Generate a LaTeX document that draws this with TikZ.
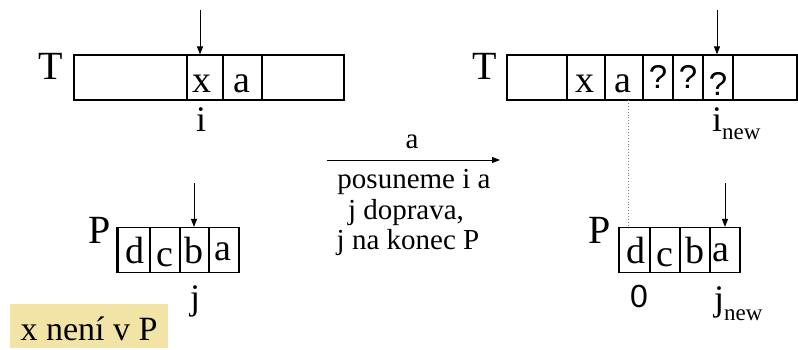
\documentclass[tikz,border=0pt]{standalone}
\usepackage{fontspec}
\setmainfont{Liberation Serif}
\newfontfamily\arialf{Liberation Sans}
\usetikzlibrary{arrows.meta}
\definecolor{khaki}{RGB}{242,228,166}
\tikzset{
  cell/.style={draw, line width=1.2pt, inner sep=0pt, minimum height=45pt},
  ptr/.style={line width=0.9pt, -{Triangle[length=8pt,width=6pt]}},
  lbl/.style={anchor=base, inner sep=0pt},
  bigfont/.style={font=\fontsize{38}{38}\selectfont},
  tfont/.style={font=\fontsize{40}{40}\selectfont},
  idxfont/.style={font=\fontsize{36}{36}\selectfont},
  midfont/.style={font=\fontsize{29}{29}\selectfont},
  notefont/.style={font=\fontsize{34}{34}\selectfont},
  qmfont/.style={font=\arialf\fontsize{33}{33}\selectfont},
}
\newcommand{\subnew}[1]{\raisebox{#1}{\fontsize{23}{23}\selectfont new}}
\begin{document}
\begin{tikzpicture}[x=1pt,y=-1pt]
\useasboundingbox (0,0) rectangle (798,349);
% left T
\node[cell, minimum width=113pt] (lt1) at (130.5,77.5) {};
\node[cell, minimum width=36pt] (lt2) at (205,77.5) {};
\node[cell, minimum width=39pt] (lt3) at (242.5,77.5) {};
\node[cell, minimum width=82pt] (lt4) at (303,77.5) {};
\node[lbl, tfont] (lT) at (51,79) {T};
\node[lbl, bigfont] (ltx) at (202,92) {x};
\node[lbl, bigfont] (lta) at (242,92) {a};
\node[lbl, idxfont] (li) at (201,131) {i};
\coordinate (la0) at (200,10);
\draw[ptr] (la0) -- (la0 |- lt2.north);
% right T
\node[cell, minimum width=60pt] (rt1) at (537,77.5) {};
\node[cell, minimum width=38pt] (rt2) at (586,77.5) {};
\node[cell, minimum width=38pt] (rt3) at (624,77.5) {};
\node[cell, minimum width=30pt] (rt4) at (658,77.5) {};
\node[cell, minimum width=30pt] (rt5) at (688,77.5) {};
\node[cell, minimum width=30pt] (rt6) at (718,77.5) {};
\node[cell, minimum width=64pt] (rt7) at (765,77.5) {};
\node[lbl, tfont] (rT) at (485,79) {T};
\node[lbl, bigfont] (rtx) at (585,92) {x};
\node[lbl, bigfont] (rta) at (623,92) {a};
\node[lbl, qmfont] (rq1) at (658,88) {?};
\node[lbl, qmfont] (rq2) at (688,88) {?};
\node[lbl, qmfont] (rq3) at (718,95) {?};
\node[lbl, idxfont, anchor=base west] (ri) at (712,131) {i\subnew{-8pt}};
\coordinate (ra0) at (717,10);
\draw[ptr] (ra0) -- (ra0 |- rt6.north);
% middle
\coordinate (m1) at (327,160);
\coordinate (m2) at (500,160);
\draw[ptr] (m1) -- (m2);
\node[lbl, midfont] (ma) at (412,148) {a};
\node[lbl, midfont] (ml1) at (414,188) {posuneme i a};
\node[lbl, midfont] (ml2) at (406,219) {j doprava,};
\node[lbl, midfont] (ml3) at (408,249) {j na konec P};
% left P
\node[cell, minimum width=32pt] (lp1) at (134,250) {};
\node[cell, minimum width=30pt] (lp2) at (165,250) {};
\node[cell, minimum width=29pt] (lp3) at (194.5,250) {};
\node[cell, minimum width=30pt] (lp4) at (224,250) {};
\draw[line width=2.4pt] (lp1.north west) -- (lp1.south west);
\node[lbl, tfont] (lP) at (100,243) {P};
\node[lbl, bigfont] (lpd) at (135,263) {d};
\node[lbl, bigfont] (lpc) at (165,266) {c};
\node[lbl, bigfont] (lpb) at (194,263) {b};
\node[lbl, bigfont] (lpa) at (223,260) {a};
\node[lbl, idxfont] (lj) at (195,309) {j};
\coordinate (lpa0) at (194,183);
\draw[ptr] (lpa0) -- (lpa0 |- lp3.north);
% right P
\node[cell, minimum width=31pt] (rp1) at (634.5,250) {};
\node[cell, minimum width=30pt] (rp2) at (665,250) {};
\node[cell, minimum width=30pt] (rp3) at (695,250) {};
\node[cell, minimum width=30pt] (rp4) at (725,250) {};
\node[lbl, tfont] (rP) at (600,243) {P};
\node[lbl, bigfont] (rpd) at (636,263) {d};
\node[lbl, bigfont] (rpc) at (665,266) {c};
\node[lbl, bigfont] (rpb) at (695,263) {b};
\node[lbl, bigfont] (rpa) at (721,261) {a};
\node[lbl, font=\arialf\fontsize{32}{32}\selectfont] (r0) at (639,307) {0};
\node[lbl, idxfont, anchor=base west] (rj) at (714,310) {j\subnew{-10pt}};
\coordinate (rpa0) at (725,183);
\draw[ptr] (rpa0) -- (rpa0 |- rp4.north);
% dotted link
\coordinate (dt) at (628,100);
\draw[dotted, line width=0.9pt, gray] (dt) -- (dt |- rp1.north);
% note
\node[fill=khaki, anchor=base, inner sep=0pt, minimum width=158pt, text height=36pt, text depth=8pt, notefont] (note) at (89,340) {x není v P};
\end{tikzpicture}
\end{document}
